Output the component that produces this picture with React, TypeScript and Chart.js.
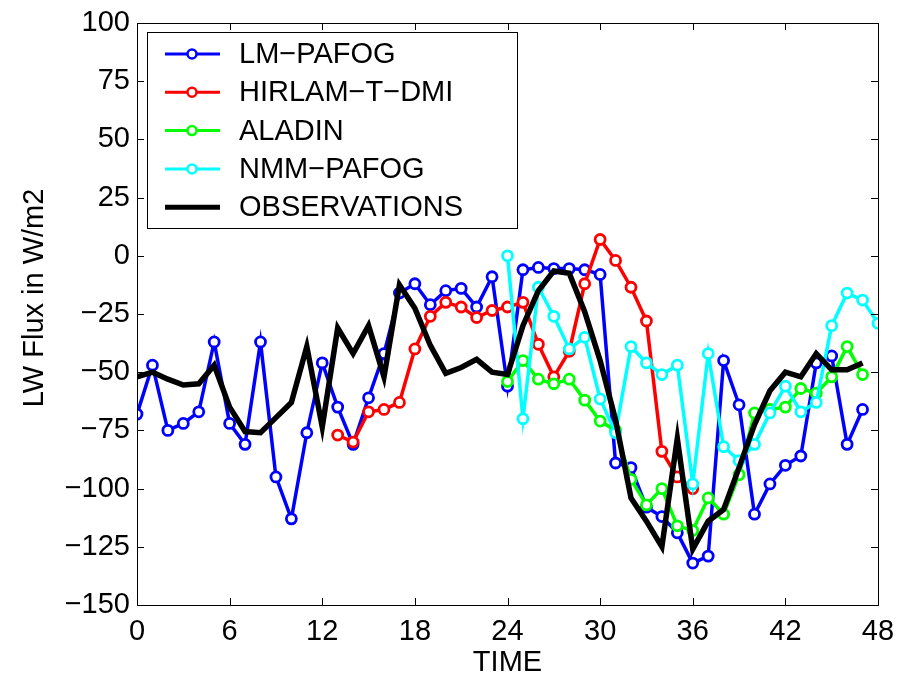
import React, { useEffect, useRef } from "react";
import { Chart, registerables } from "chart.js";

Chart.register(...registerables);

const HOURS_ALL = [0,1,2,3,4,5,6,7,8,9,10,11,12,13,14,15,16,17,18,19,20,21,22,23,24,25,26,27,28,29,30,31,32,33,34,35,36,37,38,39,40,41,42,43,44,45,46,47,48];
const X_TICKS = [0, 6, 12, 18, 24, 30, 36, 42, 48];
const Y_TICKS = [-150, -125, -100, -75, -50, -25, 0, 25, 50, 75, 100];

const LM_START = 0;
const LM_PAFOG = [-68,-47,-75,-72,-67,-37,-72,-81,-37,-95,-113,-76,-46,-65,-81,-61,-42,-16,-12,-21,-15,-14,-22,-9,-56,-6,-5,-5.5,-5.5,-6,-8,-89,-91,-108,-112,-119,-132,-129,-45,-64,-111,-98,-90,-86,-46,-43,-81,-66];

const HIRLAM_START = 13;
const HIRLAM_T_DMI = [-77,-80,-67,-66,-63,-40,-26,-20,-22,-26.5,-23.5,-22,-20,-38,-52,-41,-12,7,-2,-13.5,-28,-84,-95,-100];

const ALADIN_START = 24;
const ALADIN = [-54,-45,-53,-55,-53,-62,-71,-75,-96,-107,-100,-116,-118,-104,-111,-94,-67.5,-66,-65,-57,-59,-52,-39,-51];

const NMM_START = 24;
const NMM_PAFOG = [0,-70,-13.5,-26,-40,-35,-61.5,-76,-39,-46,-51,-47,-98,-42,-82,-88,-81,-67.5,-56,-67,-63,-30,-16,-19,-29];

const OBS_START = 0;
const OBSERVATIONS = [-52,-50,-53,-55.5,-55,-47,-65,-75.5,-76,-69.5,-63,-39,-73.5,-31,-42,-30,-52,-12.5,-22.5,-38.5,-50.5,-48,-44.5,-50,-51,-30,-15,-6.5,-7.5,-24,-45,-70.5,-104,-114,-125,-78.5,-126,-114,-109,-91,-72.5,-58,-50,-52,-42,-49,-49,-46];

const SERIES_NAMES = ["LM\u2212PAFOG", "HIRLAM\u2212T\u2212DMI", "ALADIN", "NMM\u2212PAFOG", "OBSERVATIONS"];
const SERIES_COLORS = ["#0000ff", "#ff0000", "#00ff00", "#00ffff", "#000000"];

const FONT = "'Liberation Sans', Arial, Helvetica, sans-serif";

function toPoints(start: number, values: number[]) {
  return values.map((v, i) => ({ x: HOURS_ALL[start + i], y: v }));
}

const fmt = (v: number) => (v < 0 ? "\u2212" + Math.abs(v) : String(v));

const framePlugin = {
  id: "frameTicks",
  afterDatasetsDraw(chart: any) {
    const { ctx, chartArea: a, scales } = chart;
    const xs = scales.x;
    const ys = scales.y;
    const tl = 7;
    ctx.save();
    ctx.strokeStyle = "#000";
    ctx.lineWidth = 1;
    ctx.beginPath();
    for (const t of X_TICKS) {
      const px = Math.round(xs.getPixelForValue(t)) + 0.5;
      ctx.moveTo(px, a.bottom);
      ctx.lineTo(px, a.bottom - tl);
      ctx.moveTo(px, a.top);
      ctx.lineTo(px, a.top + tl);
    }
    for (const t of Y_TICKS) {
      const py = Math.round(ys.getPixelForValue(t)) + 0.5;
      ctx.moveTo(a.left, py);
      ctx.lineTo(a.left + tl, py);
      ctx.moveTo(a.right, py);
      ctx.lineTo(a.right - tl, py);
    }
    ctx.stroke();
    ctx.strokeRect(Math.round(a.left) + 0.5, Math.round(a.top) + 0.5, Math.round(a.right - a.left), Math.round(a.bottom - a.top));
    ctx.restore();
  },
  afterDraw(chart: any) {
    const { ctx, chartArea: a } = chart;
    const bx = a.left + 10;
    const by = a.top + 9;
    const bw = 370;
    const bh = 196;
    ctx.save();
    ctx.fillStyle = "#fff";
    ctx.fillRect(bx, by, bw, bh);
    ctx.strokeStyle = "#000";
    ctx.lineWidth = 1;
    ctx.strokeRect(bx + 0.5, by + 0.5, bw, bh);
    const ds = chart.data.datasets;
    for (let i = 0; i < ds.length; i++) {
      const cy = by + 22 + i * 38.3;
      const d = ds[i];
      ctx.strokeStyle = d.borderColor;
      ctx.lineWidth = d.pointRadius > 0 ? 3 : 5;
      ctx.beginPath();
      ctx.moveTo(bx + 18, cy);
      ctx.lineTo(bx + 73, cy);
      ctx.stroke();
      if (d.pointRadius > 0) {
        ctx.fillStyle = "#fff";
        ctx.lineWidth = 2.5;
        ctx.beginPath();
        ctx.arc(bx + 45, cy, 4.5, 0, Math.PI * 2);
        ctx.fill();
        ctx.stroke();
      }
      ctx.fillStyle = "#000";
      ctx.font = `29px ${FONT}`;
      ctx.textBaseline = "middle";
      ctx.textAlign = "left";
      ctx.fillText(d.label, bx + 92, cy + 1);
    }
    ctx.restore();
  },
};

export default function App() {
  const ref = useRef<HTMLCanvasElement | null>(null);
  useEffect(() => {
    document.body.style.margin = "0";
    const canvas = ref.current;
    if (!canvas) return;
    const seriesData = [
      toPoints(LM_START, LM_PAFOG),
      toPoints(HIRLAM_START, HIRLAM_T_DMI),
      toPoints(ALADIN_START, ALADIN),
      toPoints(NMM_START, NMM_PAFOG),
      toPoints(OBS_START, OBSERVATIONS),
    ];
    const datasets = seriesData.map((data, i) => {
      const isObs = i === 4;
      return {
        label: SERIES_NAMES[i],
        data,
        borderColor: SERIES_COLORS[i],
        backgroundColor: "#ffffff",
        borderWidth: isObs ? 5.5 : 3.5,
        pointRadius: isObs ? 0 : 5,
        pointBorderWidth: 2.8,
        pointBorderColor: SERIES_COLORS[i],
        pointBackgroundColor: "#ffffff",
        tension: 0,
        fill: false,
        order: 4 - i,
      };
    });
    const chart = new Chart(canvas, {
      type: "line",
      data: { datasets },
      plugins: [framePlugin],
      options: {
        animation: false,
        responsive: false,
        maintainAspectRatio: false,
        layout: { padding: { top: 23, right: 20, left: 0, bottom: 0 } },
        plugins: { legend: { display: false }, tooltip: { enabled: false } },
        scales: {
          x: {
            type: "linear",
            min: 0,
            max: 48,
            afterFit: (s: any) => { s.height = 69; s.paddingRight = 0; s.paddingLeft = 0; },
            afterBuildTicks: (s: any) => { s.ticks = X_TICKS.map((v) => ({ value: v })); },
            grid: { display: false, drawTicks: false },
            border: { display: false },
            ticks: {
              color: "#000",
              font: { family: FONT, size: 29 },
              padding: 10,
              maxRotation: 0,
              autoSkip: false,
              callback: (v: any) => fmt(Number(v)),
            },
            title: {
              display: true,
              text: "TIME",
              color: "#000",
              font: { family: FONT, size: 29, lineHeight: 1 },
              padding: { top: 0, bottom: -3 },
            },
          },
          y: {
            type: "linear",
            min: -150,
            max: 100,
            afterFit: (s: any) => { s.width = 137; s.paddingTop = 0; s.paddingBottom = 0; },
            afterBuildTicks: (s: any) => { s.ticks = Y_TICKS.map((v) => ({ value: v })); },
            grid: { display: false, drawTicks: false },
            border: { display: false },
            ticks: {
              color: "#000",
              font: { family: FONT, size: 29 },
              padding: 7,
              autoSkip: false,
              callback: (v: any) => fmt(Number(v)),
            },
            title: {
              display: true,
              text: "    LW Flux in W/m2",
              color: "#000",
              font: { family: FONT, size: 29, lineHeight: 1 },
              padding: { top: 20, bottom: 0 },
            },
          },
        },
      },
    });
    return () => chart.destroy();
  }, []);
  return (
    <div style={{ width: 898, height: 674 }}>
      <canvas ref={ref} width={898} height={674} style={{ display: "block", width: 898, height: 674 }} />
    </div>
  );
}
